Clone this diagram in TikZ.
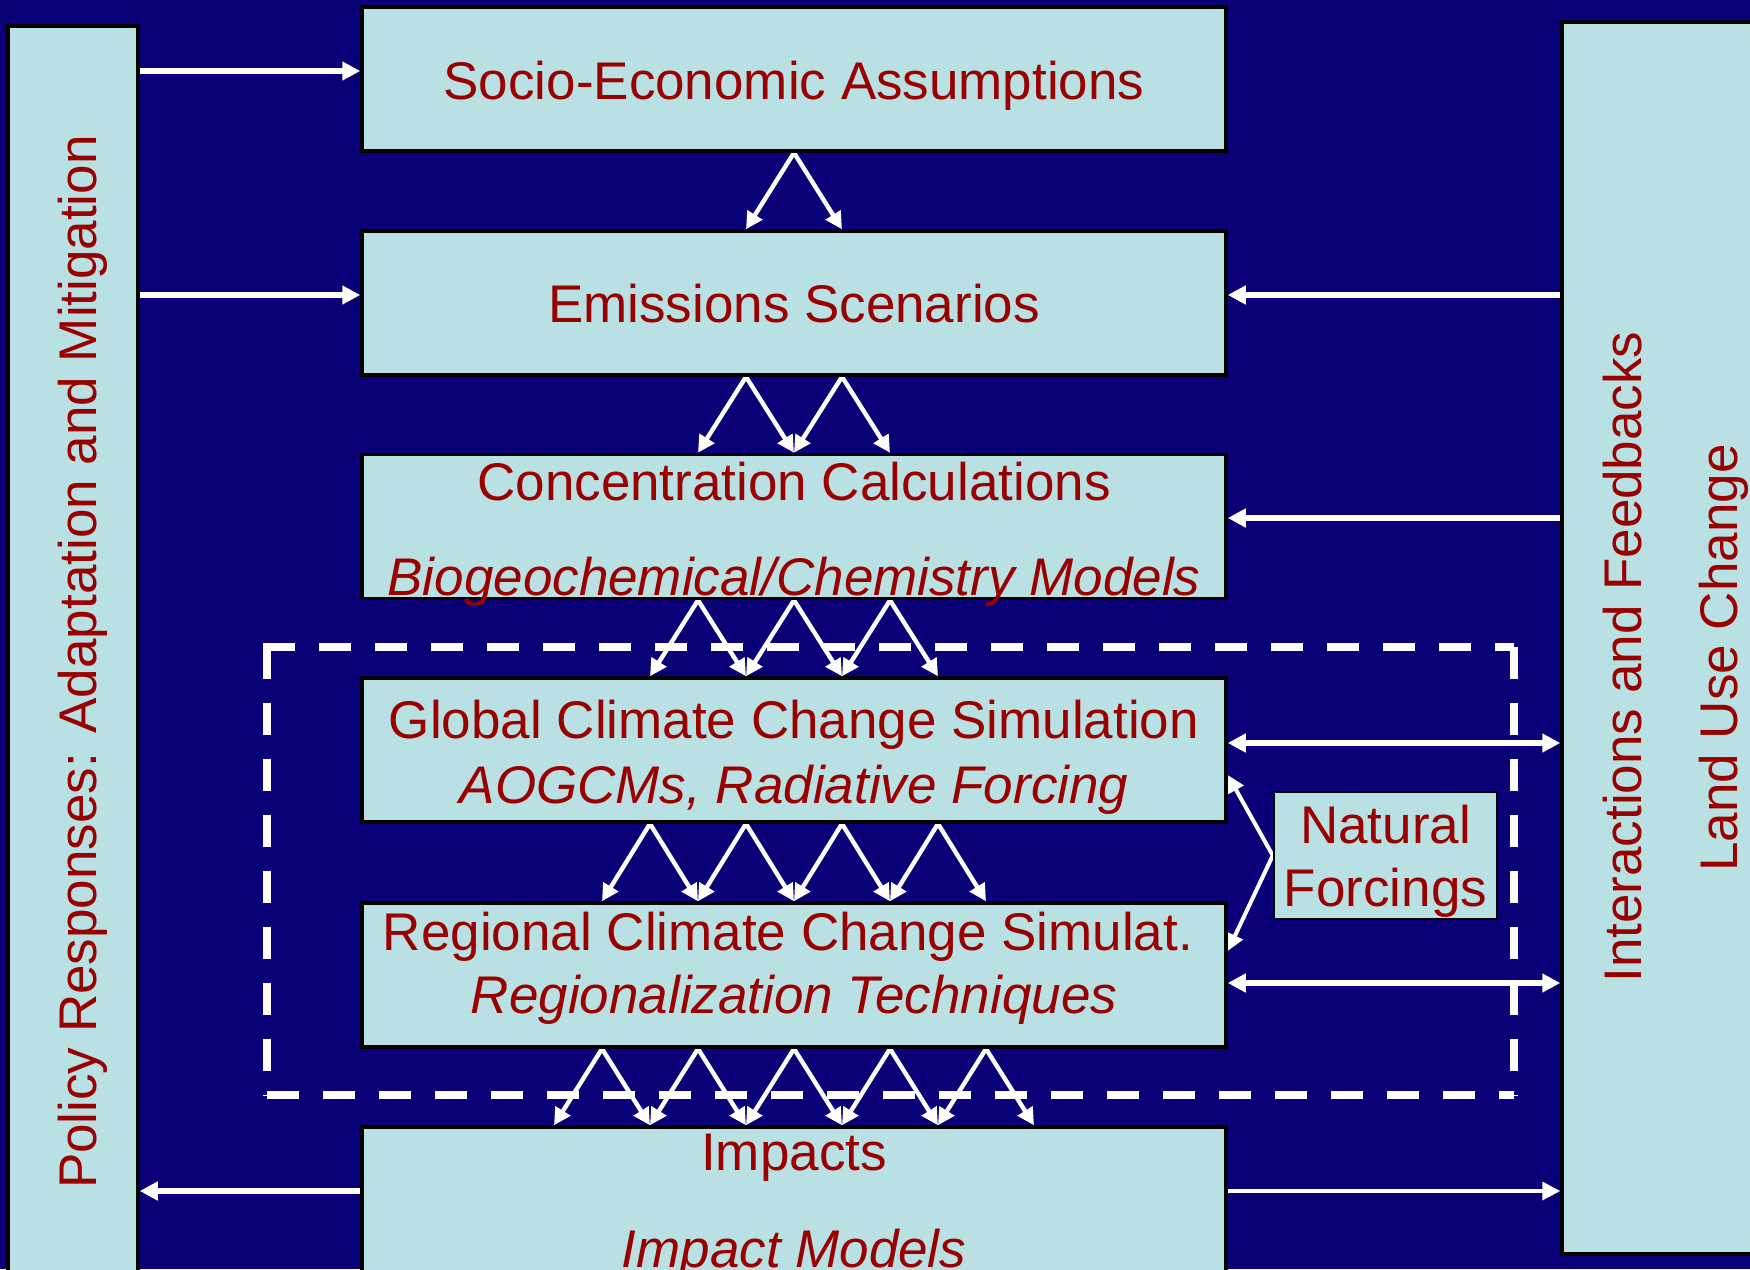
\documentclass[tikz,border=0pt]{standalone}
\usepackage{fontspec}
\setmainfont{Liberation Sans}
\usetikzlibrary{arrows.meta}
\definecolor{bgnavy}{RGB}{10,0,120}
\definecolor{boxfill}{RGB}{185,224,227}
\definecolor{txtred}{RGB}{153,0,0}
\begin{document}
\begin{tikzpicture}[x=0.5pt,y=-0.5pt,
  box/.style={draw=black, line width=1.75pt, fill=boxfill, inner sep=0pt, minimum width=432pt, minimum height=72pt},
  lbl/.style={text=txtred, font=\fontsize{26.5pt}{32pt}\selectfont, anchor=base, inner sep=0pt},
  ilbl/.style={lbl, font=\fontsize{26.5pt}{32pt}\selectfont\itshape},
  harr/.style={draw=white, line width=2.7pt, -{Triangle[length=9pt,width=9pt]}},
  hdarr/.style={draw=white, line width=2.6pt, {Triangle[length=9pt,width=9pt]}-{Triangle[length=9pt,width=9pt]}},
  vv/.style={draw=white, line width=2.2pt, {Triangle[length=8.5pt,width=8.5pt]}-{Triangle[length=8.5pt,width=8.5pt]}},
  dsh/.style={draw=white, line width=4pt, dash pattern=on 16pt off 12pt},
]
\useasboundingbox (0,0) rectangle (1750,1269);
\clip (0,0) rectangle (1750,1269);
\fill[bgnavy] (0,0) rectangle (1750,1269);

% nodes (boxes)
\node[box] (socio) at (794,79) {};
\node[box] (emis) at (794,303) {};
\node[box] (conc) at (794,526.5) {};
\node[box] (glob) at (794,750) {};
\node[box] (regi) at (794,975) {};
\node[box, minimum height=90pt] (imp) at (794,1217) {};
\node[box, minimum width=65pt, minimum height=654pt] (lp) at (73,680) {};
\node[box, minimum width=114pt, minimum height=616pt] (rp) at (1676,638) {};
\node[box, line width=1.25pt, minimum width=111.5pt, minimum height=63.5pt] (nf) at (1385.5,855.5) {};
\node[inner sep=0pt, minimum width=623.5pt, minimum height=224pt] (grp) at (890.5,871) {};

% helper levels
\coordinate (h1) at (0,71);
\coordinate (h2) at (0,295);
\coordinate (h3) at (0,518);
\coordinate (h4) at (0,743);
\coordinate (h5) at (0,983);
\coordinate (h6) at (0,1191);
\coordinate (n1) at (0,775);
\coordinate (n2) at (0,951);

% connectors
\draw[harr, line width=3pt] (lp.east |- h1) -- (socio.west |- h1);
\draw[harr, line width=3pt] (lp.east |- h2) -- (emis.west |- h2);
\draw[harr] (rp.west |- h2) -- (emis.east |- h2);
\draw[harr] (rp.west |- h3) -- (conc.east |- h3);
\draw[hdarr] (glob.east |- h4) -- (rp.west |- h4);
\draw[hdarr] (regi.east |- h5) -- (rp.west |- h5);
\draw[harr, line width=1.75pt] (imp.east |- h6) -- (rp.west |- h6);
\draw[harr] (imp.west |- h6) -- (lp.east |- h6);
\draw[vv, line width=2pt] (glob.east |- n1) -- (nf.west) -- (regi.east |- n2);

\foreach \a in {0}{
  \draw[vv] ([shift={(\a-48,0)}]emis.north) -- ([shift={(\a,0)}]socio.south) -- ([shift={(\a+48,0)}]emis.north);}
\foreach \a in {-48,48}{
  \draw[vv] ([shift={(\a-48,0)}]conc.north) -- ([shift={(\a,0)}]emis.south) -- ([shift={(\a+48,0)}]conc.north);}
\foreach \a in {-96,0,96}{
  \draw[vv] ([shift={(\a-48,0)}]glob.north) -- ([shift={(\a,0)}]conc.south) -- ([shift={(\a+48,0)}]glob.north);}
\foreach \a in {-144,-48,48,144}{
  \draw[vv] ([shift={(\a-48,0)}]regi.north) -- ([shift={(\a,0)}]glob.south) -- ([shift={(\a+48,0)}]regi.north);}
\foreach \a in {-192,-96,0,96,192}{
  \draw[vv] ([shift={(\a-48,0)}]imp.north) -- ([shift={(\a,0)}]regi.south) -- ([shift={(\a+48,0)}]imp.north);}

% dashed group frame
\draw[dsh] ([shift={(-4,0)}]grp.north west) -- (grp.north east);
\draw[dsh] (grp.north west) -- (grp.south west);
\draw[dsh] (grp.south west) -- (grp.south east);
\draw[dsh] (grp.north east) -- (grp.south east);

% redraw boxes on top of connector ends
\node[box] at (socio) {};
\node[box] at (emis) {};
\node[box] at (conc) {};
\node[box] at (glob) {};
\node[box] at (regi) {};
\node[box, minimum height=90pt] at (imp) {};
\node[box, minimum width=65pt, minimum height=654pt] at (lp) {};
\node[box, minimum width=114pt, minimum height=616pt] at (rp) {};
\node[box, line width=1.25pt, minimum width=111.5pt, minimum height=63.5pt] at (nf) {};

% texts
\node[lbl] (tsocio) at (794,99) {Socio-Economic Assumptions};
\node[lbl] (temis) at (794,322) {Emissions Scenarios};
\node[lbl] (tconc1) at (794,500) {Concentration Calculations};
\node[ilbl] (tconc2) at (794,595) {Biogeochemical/Chemistry Models};
\node[lbl] (tglob1) at (794,738) {Global Climate Change Simulation};
\node[ilbl] (tglob2) at (794,803) {AOGCMs, Radiative Forcing};
\node[lbl] (tregi1) at (788,950) {Regional Climate Change Simulat.};
\node[ilbl] (tregi2) at (794,1013) {Regionalization Techniques};
\node[lbl] (timp1) at (794,1170) {Impacts};
\node[ilbl] (timp2) at (794,1267) {Impact Models};
\node[lbl] (tnf1) at (1385.5,843) {Natural};
\node[lbl] (tnf2) at (1385.5,906) {Forcings};
\node[lbl, rotate=90] (tlp) at (96,662) {Policy Responses: Adaptation and Mitigation};
\node[lbl, rotate=90] (trp1) at (1641,657) {Interactions and Feedbacks};
\node[lbl, rotate=90] (trp2) at (1737,658) {Land Use Change};
\end{tikzpicture}
\end{document}
